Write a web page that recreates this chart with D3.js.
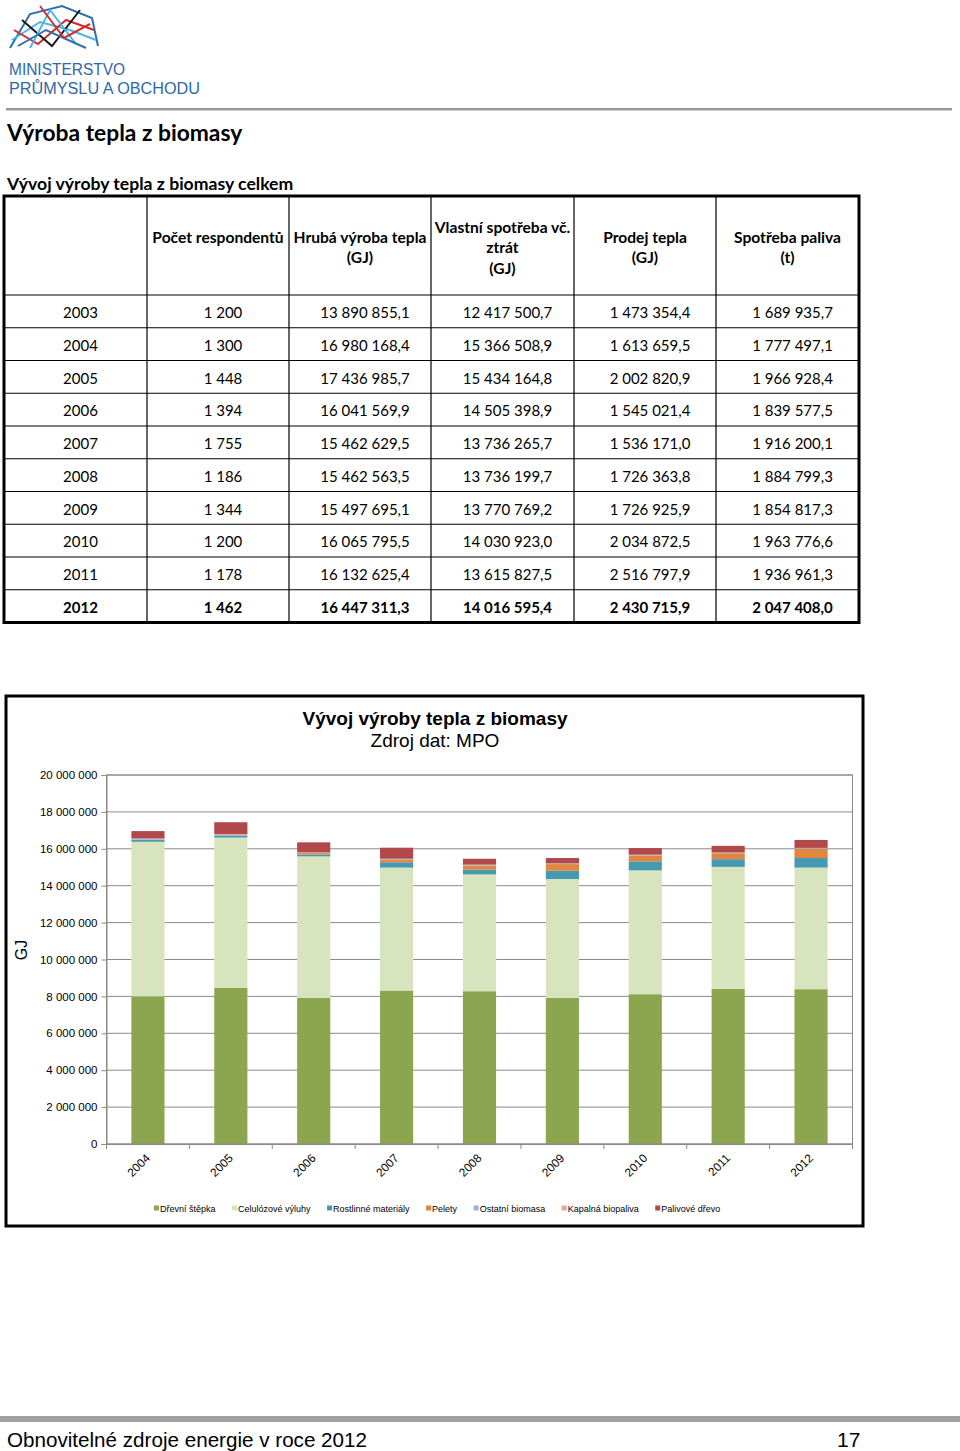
<!DOCTYPE html>
<html>
<head>
<meta charset="utf-8">
<script src="https://cdn.jsdelivr.net/npm/d3@7"></script>
<style>
  body { margin: 0; background: #fff; }
  svg { display: block; }
</style>
</head>
<body>
<svg id="page"></svg>
<script>
// page size
let width = 960
let height = 1451

// ---- table data ----
const tableYears = [2003, 2004, 2005, 2006, 2007, 2008, 2009, 2010, 2011, 2012]
const pocet = [1200, 1300, 1448, 1394, 1755, 1186, 1344, 1200, 1178, 1462]
const hruba = [13890855.1, 16980168.4, 17436985.7, 16041569.9, 15462629.5, 15462563.5, 15497695.1, 16065795.5, 16132625.4, 16447311.3]
const vlastni = [12417500.7, 15366508.9, 15434164.8, 14505398.9, 13736265.7, 13736199.7, 13770769.2, 14030923.0, 13615827.5, 14016595.4]
const prodej = [1473354.4, 1613659.5, 2002820.9, 1545021.4, 1536171.0, 1726363.8, 1726925.9, 2034872.5, 2516797.9, 2430715.9]
const spotreba = [1689935.7, 1777497.1, 1966928.4, 1839577.5, 1916200.1, 1884799.3, 1854817.3, 1963776.6, 1936961.3, 2047408.0]
const headers = [[''], ['Počet respondentů'], ['Hrubá výroba tepla', '(GJ)'], ['Vlastní spotřeba vč.', 'ztrát', '(GJ)'], ['Prodej tepla', '(GJ)'], ['Spotřeba paliva', '(t)']]

// ---- chart data (GJ) ----
const chartYears = ['2004', '2005', '2006', '2007', '2008', '2009', '2010', '2011', '2012']
const seriesNames = ['Dřevní štěpka', 'Celulózové výluhy', 'Rostlinné materiály', 'Pelety', 'Ostatní biomasa', 'Kapalná biopaliva', 'Palivové dřevo']
const drevniStepka = [8000000, 8460000, 7920000, 8320000, 8280000, 7920000, 8120000, 8410000, 8390000]
const celulozoveVyluhy = [8380000, 8150000, 7670000, 6660000, 6330000, 6440000, 6710000, 6610000, 6590000]
const rostlinneMaterialy = [100000, 100000, 100000, 290000, 270000, 450000, 490000, 420000, 520000]
const pelety = [20000, 30000, 80000, 150000, 220000, 360000, 320000, 320000, 510000]
const ostatniBiomasa = [50000, 50000, 30000, 30000, 30000, 30000, 30000, 30000, 30000]
const kapalnaBiopaliva = [10000, 10000, 10000, 10000, 10000, 10000, 10000, 10000, 10000]
const palivoveDrevo = [400000, 640000, 540000, 600000, 320000, 290000, 360000, 360000, 430000]
const yTicks = [0, 2000000, 4000000, 6000000, 8000000, 10000000, 12000000, 14000000, 16000000, 18000000, 20000000]
const seriesColors = ['#8ca64f', '#d8e4bd', '#4699b2', '#e0863e', '#9db2d2', '#deaaa9', '#b1484a']

let svg = d3.select('#page').attr('width', width).attr('height', height)

const cz = d3.formatLocale({ decimal: ',', thousands: '\u00a0', grouping: [3], currency: ['', ''] })
const fmt1 = cz.format(',.1f')
const fmt0 = cz.format(',d')

//1. header with logo
let drawHeader = () => {
    let logo = svg.append('g')
    // dome made of crossing lines
    const domeLines = [
        [[10, 48], [30, 14], [62, 6], [92, 18], [98, 46]],
        [[12, 40], [40, 22], [70, 30], [96, 40]],
        [[14, 30], [38, 44], [66, 20], [94, 30]],
        [[22, 20], [52, 46], [80, 10]],
        [[30, 48], [50, 10], [76, 44]],
        [[18, 46], [46, 30], [86, 48]],
        [[40, 6], [64, 38], [90, 24]]
    ]
    const domeColors = ['#2f6fb0', '#4cb6e4', '#d22c30', '#1a1a1a', '#4cb6e4', '#2f6fb0', '#d22c30']
    logo.selectAll('path')
        .data(domeLines)
        .enter()
        .append('path')
        .attr('d', d => d3.line()(d))
        .attr('fill', 'none')
        .attr('stroke', (d, i) => domeColors[i])
        .attr('stroke-width', 2)
    logo.append('text').text('MINISTERSTVO')
        .attr('x', 9).attr('y', 75).attr('textLength', 116)
        .attr('lengthAdjust', 'spacingAndGlyphs')
        .style('font', '16px "Liberation Sans", Arial, sans-serif').attr('fill', '#2f67a8')
    logo.append('text').text('PRŮMYSLU A OBCHODU')
        .attr('x', 9).attr('y', 94).attr('textLength', 191)
        .attr('lengthAdjust', 'spacingAndGlyphs')
        .style('font', '16px "Liberation Sans", Arial, sans-serif').attr('fill', '#2f67a8')

    svg.append('rect').attr('x', 6).attr('y', 108).attr('width', 946).attr('height', 2.5).attr('fill', '#999')

    svg.append('text').text('Výroba tepla z biomasy')
        .attr('x', 7).attr('y', 141)
        .style('font', 'bold 22.8px Lato, sans-serif')
    svg.append('text').text('Vývoj výroby tepla z biomasy celkem')
        .attr('x', 7).attr('y', 190)
        .style('font', 'bold 17.6px Lato, sans-serif')
}

//2. table
let drawTable = () => {
    const colX = [4, 147, 289, 431, 574, 716, 859]
    const top = 196
    const headerBottom = 295
    const rowH = 32.75
    let t = svg.append('g')

    // horizontal lines
    let rowLines = d3.range(tableYears.length).map(i => headerBottom + i * rowH)
    t.selectAll('.hline')
        .data(rowLines)
        .enter()
        .append('line')
        .attr('x1', colX[0]).attr('x2', colX[6])
        .attr('y1', d => d).attr('y2', d => d)
        .attr('stroke', '#000').attr('stroke-width', 1.2)
    let bottom = headerBottom + tableYears.length * rowH
    t.selectAll('.vline')
        .data(colX.slice(1, 6))
        .enter()
        .append('line')
        .attr('x1', d => d).attr('x2', d => d)
        .attr('y1', top).attr('y2', bottom)
        .attr('stroke', '#000').attr('stroke-width', 1.2)
    t.append('rect')
        .attr('x', colX[0]).attr('y', top)
        .attr('width', colX[6] - colX[0]).attr('height', bottom - top)
        .attr('fill', 'none').attr('stroke', '#000').attr('stroke-width', 3)

    // headers
    headers.forEach((lines, c) => {
        let cx = (colX[c] + colX[c + 1]) / 2
        let y0 = lines.length === 3 ? 232.5 : 242.5
        lines.forEach((ln, k) => {
            t.append('text').text(ln)
                .attr('x', cx).attr('y', y0 + k * 20.6)
                .attr('text-anchor', 'middle')
                .style('font', 'bold 15.6px Lato, sans-serif')
        })
    })

    // rows
    let rows = tableYears.map((y, i) => [String(y), fmt0(pocet[i]), fmt1(hruba[i]), fmt1(vlastni[i]), fmt1(prodej[i]), fmt1(spotreba[i])])
    rows.forEach((r, i) => {
        let last = i === rows.length - 1
        r.forEach((v, c) => {
            t.append('text').text(v)
                .attr('x', (colX[c] + colX[c + 1]) / 2 + 5)
                .attr('y', headerBottom + i * rowH + 23)
                .attr('text-anchor', 'middle')
                .style('font', (last ? 'bold ' : '') + '15px Lato, sans-serif')
        })
    })
}

//3. chart
let drawChart = () => {
    const font = '"Liberation Sans", Arial, sans-serif'
    let c = svg.append('g')
    c.append('rect')
        .attr('x', 6).attr('y', 696).attr('width', 857).attr('height', 530)
        .attr('fill', '#fff').attr('stroke', '#000').attr('stroke-width', 3)

    c.append('text').text('Vývoj výroby tepla z biomasy')
        .attr('x', 435).attr('y', 725).attr('text-anchor', 'middle')
        .style('font', 'bold 19px ' + font)
    c.append('text').text('Zdroj dat: MPO')
        .attr('x', 435).attr('y', 747).attr('text-anchor', 'middle')
        .style('font', '19px ' + font)

    let xScale = d3.scaleBand()
        .domain(chartYears)
        .range([106.5, 852.5])
        .paddingInner(0.6)
        .paddingOuter(0.3)
    let yScale = d3.scaleLinear()
        .domain([0, 20000000])
        .range([1144, 775])

    // gridlines
    c.selectAll('.grid')
        .data(yTicks)
        .enter()
        .append('line')
        .attr('x1', 106.5).attr('x2', 852.5)
        .attr('y1', d => yScale(d)).attr('y2', d => yScale(d))
        .attr('stroke', '#8a8a8a').attr('stroke-width', 1)

    // stacked bars
    let table = chartYears.map((y, i) => ({
        year: y,
        'Dřevní štěpka': drevniStepka[i],
        'Celulózové výluhy': celulozoveVyluhy[i],
        'Rostlinné materiály': rostlinneMaterialy[i],
        'Pelety': pelety[i],
        'Ostatní biomasa': ostatniBiomasa[i],
        'Kapalná biopaliva': kapalnaBiopaliva[i],
        'Palivové dřevo': palivoveDrevo[i]
    }))
    let stacked = d3.stack().keys(seriesNames)(table)
    c.selectAll('.series')
        .data(stacked)
        .enter()
        .append('g')
        .attr('fill', (d, i) => seriesColors[i])
        .selectAll('rect')
        .data(d => d)
        .enter()
        .append('rect')
        .attr('x', d => xScale(d.data.year))
        .attr('width', xScale.bandwidth())
        .attr('y', d => yScale(d[1]))
        .attr('height', d => yScale(d[0]) - yScale(d[1]))

    // plot border
    c.append('rect')
        .attr('x', 106.5).attr('y', 775).attr('width', 746).attr('height', 369)
        .attr('fill', 'none').attr('stroke', '#8a8a8a').attr('stroke-width', 1)

    // y axis
    let yAxis = d3.axisLeft(yScale)
        .tickValues(yTicks)
        .tickSize(5)
        .tickFormat(d => d === 0 ? '0' : fmt0(d))
    let ya = c.append('g')
        .attr('transform', 'translate(106.5, 0)')
        .call(yAxis)
    ya.select('.domain').attr('stroke', '#8a8a8a')
    ya.selectAll('.tick line').attr('stroke', '#8a8a8a')
    ya.selectAll('.tick text')
        .attr('x', -9)
        .style('font', '11.5px ' + font).attr('fill', '#000')

    // x axis
    let xAxis = d3.axisBottom(xScale).tickSize(0).tickFormat(d => d)
    let xa = c.append('g')
        .attr('transform', 'translate(0, 1144)')
        .call(xAxis)
    xa.select('.domain').attr('stroke', '#8a8a8a')
    xa.selectAll('.tick text')
        .attr('text-anchor', 'end')
        .attr('transform', 'translate(-3, 9) rotate(-45)')
        .attr('dy', '0.7em')
        .attr('y', 0)
        .style('font', '11.8px ' + font).attr('fill', '#000')
    // category separators on the x axis
    let step = xScale.step()
    c.selectAll('.xsep')
        .data(d3.range(chartYears.length + 1))
        .enter()
        .append('line')
        .attr('x1', i => 106.5 + i * step).attr('x2', i => 106.5 + i * step)
        .attr('y1', 1144).attr('y2', 1149)
        .attr('stroke', '#8a8a8a')

    // y axis title
    c.append('text').text('GJ')
        .attr('transform', 'translate(27, 950) rotate(-90)')
        .attr('text-anchor', 'middle')
        .style('font', '16px ' + font)

    // legend
    let lx = 154
    seriesNames.forEach((name, i) => {
        c.append('rect')
            .attr('x', lx).attr('y', 1205.5).attr('width', 5).attr('height', 5)
            .attr('fill', seriesColors[i])
        let tx = c.append('text').text(name)
            .attr('x', lx + 6).attr('y', 1211.5)
            .style('font', '9px ' + font).attr('fill', '#000')
        lx += 6 + tx.node().getComputedTextLength() + 16.5
    })
}

//4. footer
let drawFooter = () => {
    svg.append('rect').attr('x', 0).attr('y', 1416).attr('width', 960).attr('height', 6).attr('fill', '#a0a0a0')
    svg.append('text').text('Obnovitelné zdroje energie v roce 2012')
        .attr('x', 7).attr('y', 1447).attr('textLength', 360)
        .attr('lengthAdjust', 'spacingAndGlyphs')
        .style('font', '21px "Liberation Sans", Arial, sans-serif')
    svg.append('text').text('17')
        .attr('x', 837).attr('y', 1447)
        .style('font', '21px "Liberation Sans", Arial, sans-serif')
}

drawHeader()
drawTable()
drawChart()
drawFooter()
</script>
</body>
</html>
